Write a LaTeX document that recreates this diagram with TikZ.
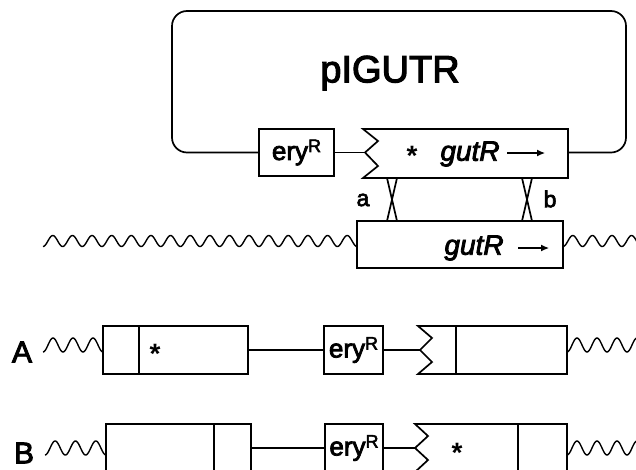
\documentclass[tikz,border=0pt]{standalone}
\usepackage{fontspec}
\setmainfont{Liberation Sans}[UprightFeatures={FakeBold=3}, ItalicFeatures={FakeBold=3}]
\usetikzlibrary{arrows.meta}
\newcommand\myfs[1]{\fontsize{#1}{#1}\selectfont}
\newcommand\supR{\raisebox{8pt}{\myfs{18}R}}
\begin{document}
\begin{tikzpicture}[x=1pt,y=-1pt,
  ln/.style={line width=1.7pt, line join=miter},
  gbox/.style={draw, line width=1.7pt, inner sep=0pt},
  wave/.style={line width=1.4pt},
  erytxt/.style={font=\myfs{26}},
  gtxt/.style={font=\myfs{28}\itshape, inner sep=0pt},
  star/.style={font=\myfs{28}\bfseries, inner sep=0pt},
  dirarrow/.style={-{Latex[length=8pt,width=7pt]}, line width=1.2pt},
  rowlbl/.style={font=\myfs{30}, inner sep=0pt},
  xlbl/.style={font=\myfs{23}, inner sep=0pt}]
\useasboundingbox (0,0) rectangle (636,469);
\clip (0,0) rectangle (636,469);

% ---------------- plasmid pIGUTR ----------------
\node[font=\myfs{38}, inner sep=0pt] (title) at (390,73) {pIGUTR};
\node[gbox, erytxt, minimum width=75pt, minimum height=47pt] (eryT) at (296.5,152.5) {ery\supR};
\draw[ln] (363,129) -- (378,141) -- (365,152.5) coordinate (gTin) -- (378,166) -- (363,178)
  -- (568,178) -- (568,129) -- cycle;
\coordinate (gTr) at (568,152.5);
\coordinate (gTbl) at (387,178); \coordinate (gTbl2) at (397,178);
\coordinate (gTbr) at (522,178); \coordinate (gTbr2) at (532,178);
\draw[ln, rounded corners=15pt] (eryT.west) -- (172,152.5) -- (172,11) -- (626,11) -- (626,152.5) -- (gTr);
\draw[ln] (eryT.east) -- (gTin);
\node[star] (starT) at (412,156) {*};
\node[gtxt] (gutT) at (470,154) {gutR};
\coordinate (arTs) at (507,153); \coordinate (arTe) at (545,153);
\draw[dirarrow] (arTs) -- (arTe);

% ---------------- chromosome ----------------
\node[gbox, minimum width=206pt, minimum height=47pt] (chr) at (460,244.5) {};
\node[gtxt] (gutC) at (474,248) {gutR};
\coordinate (arCs) at (518,248); \coordinate (arCe) at (549,248);
\draw[dirarrow] (arCs) -- (arCe);
\coordinate (cTl) at (387,221); \coordinate (cTl2) at (397,221);
\coordinate (cTr) at (522,221); \coordinate (cTr2) at (532,221);
\draw[ln] (gTbl) -- (cTl2) (gTbl2) -- (cTl);
\draw[ln] (gTbr) -- (cTr2) (gTbr2) -- (cTr);
\node[xlbl] (la) at (363,200) {a};
\node[xlbl] (lb) at (550,199) {b};
\draw[wave] plot[domain=43:357, samples=400, smooth] (\x,{241+5.5*cos((\x-43)/19.625*360)});
\draw[wave] plot[domain=563:645, samples=120, smooth] (\x,{241+5.5*cos((\x-563)/19.6*360)});

% ---------------- row A ----------------
\node[rowlbl] (lA) at (22,352) {A};
\node[gbox, minimum width=145pt, minimum height=48pt] (aL) at (175.5,350) {};
\draw[ln] (139,326) -- (139,374);
\node[star] (starA) at (155,354) {*};
\node[gbox, erytxt, minimum width=59pt, minimum height=48pt] (eryA) at (353.5,350) {ery\supR};
\draw[ln] (aL.east) -- (eryA.west);
\draw[ln] (418,326) -- (432,338) -- (420,350) coordinate (aRin) -- (432,362) -- (418,374)
  -- (567,374) -- (567,326) -- cycle;
\draw[ln] (456,326) -- (456,374);
\draw[ln] (eryA.east) -- (aRin);
\draw[wave] plot[domain=43:103, samples=100, smooth] (\x,{345+7*cos((\x-43)/20*360)});
\draw[wave] plot[domain=567:645, samples=120, smooth] (\x,{345+7*cos((\x-567)/20*360)});

% ---------------- row B ----------------
\node[rowlbl] (lB) at (24,453) {B};
\node[gbox, minimum width=145pt, minimum height=48pt] (bL) at (178.5,448) {};
\draw[ln] (214,424) -- (214,472);
\node[gbox, erytxt, minimum width=58pt, minimum height=48pt] (eryB) at (354,448) {ery\supR};
\draw[ln] (bL.east) -- (eryB.west);
\draw[ln] (415,424) -- (428,436) -- (415,448) coordinate (bRin) -- (428,460) -- (415,472)
  -- (567,472) -- (567,424) -- cycle;
\draw[ln] (518,424) -- (518,472);
\draw[ln] (eryB.east) -- (bRin);
\node[star] (starB) at (457,453) {*};
\draw[wave] plot[domain=45:106, samples=100, smooth] (\x,{448+7*cos((\x-45)/20.33*360)});
\draw[wave] plot[domain=567:645, samples=120, smooth] (\x,{448+7*cos((\x-567)/20*360)});
\end{tikzpicture}
\end{document}
